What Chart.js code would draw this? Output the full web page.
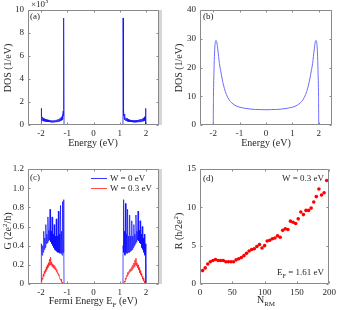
<!DOCTYPE html>
<html>
<head>
<meta charset="utf-8">
<script src="https://cdn.jsdelivr.net/npm/chart.js"></script>
<style>
  body { margin: 0; background: #fff; }
  #fig { position: relative; width: 339px; height: 310px; font-family: 'Liberation Serif', serif; color: #262626; }
  #fig canvas { position: absolute; }
  .t { position: absolute; white-space: nowrap; font-size: 10px; line-height: 10px; transform: translate(-50%, -50%); }
  .ty { transform: translate(-50%, -50%) rotate(-90deg); }
  .tag { position: absolute; font-size: 9px; line-height: 9px; white-space: nowrap; }
  .strip { position: absolute; width: 3px; background: #d6d6d6; }
  .leg { position: absolute; height: 1px; width: 16px; }
  sub, sup { font-size: 70%; line-height: 0; }
</style>
</head>
<body>
<div id="fig">
  <canvas id="ca" width="170" height="155" style="left:0;top:0"></canvas>
  <canvas id="cb" width="169" height="155" style="left:170px;top:0"></canvas>
  <canvas id="cc" width="170" height="155" style="left:0;top:155px"></canvas>
  <canvas id="cd" width="169" height="155" style="left:170px;top:155px"></canvas>

  <div class="strip" style="left:159px;top:10px;height:115px"></div>
  <div class="strip" style="left:159px;top:169px;height:115px"></div>

  <!-- axis titles -->
  <div class="t ty" style="left:8px;top:68px">DOS (1/eV)</div>
  <div class="t" style="left:93px;top:143px">Energy (eV)</div>
  <div class="t ty" style="left:179px;top:68px">DOS (1/eV)</div>
  <div class="t" style="left:266px;top:143px">Energy (eV)</div>
  <div class="t ty" style="left:8px;top:231px">G (2e<sup>2</sup>/h)</div>
  <div class="t" style="left:93px;top:301px">Fermi Energy E<sub>F</sub> (eV)</div>
  <div class="t ty" style="left:179px;top:231px">R (h/2e<sup>2</sup>)</div>
  <div class="t" style="left:266px;top:300px">N<sub>RM</sub></div>

  <!-- panel tags and notes -->
  <div class="tag" style="left:31px;top:0px">&times;10<sup>3</sup></div>
  <div class="tag" style="left:30px;top:12px">(a)</div>
  <div class="tag" style="left:203px;top:12px">(b)</div>
  <div class="tag" style="left:30px;top:173px">(c)</div>
  <div class="tag" style="left:203px;top:174px">(d)</div>
  <div class="tag" style="right:15px;top:174px">W = 0.3 eV</div>
  <div class="tag" style="right:15px;top:268px">E<sub>F</sub> = 1.61 eV</div>

  <!-- legend (c) -->
  <div class="leg" style="left:91px;top:178px;background:#3535ff"></div>
  <div class="tag" style="left:110px;top:174px">W = 0 eV</div>
  <div class="leg" style="left:91px;top:188px;background:#ff4a4a"></div>
  <div class="tag" style="left:110px;top:184px">W = 0.3 eV</div>
</div>

<script>
// (a) disordered DOS, units of 10^3 1/eV
const energyA = [
  -2.5, -2.0, -2.0, -1.995, -1.99, -1.98, -1.97, -1.96, -1.95, -1.94, -1.93, -1.92, -1.91, -1.90,
  -1.88, -1.86, -1.84, -1.82, -1.80, -1.78, -1.76, -1.74, -1.72, -1.70, -1.68, -1.66, -1.64, -1.62,
  -1.60, -1.58, -1.56, -1.54, -1.52, -1.50, -1.48, -1.46, -1.44, -1.42, -1.40, -1.38, -1.36, -1.34,
  -1.32, -1.30, -1.28, -1.26, -1.24, -1.22, -1.20,
  -1.19, -1.18, -1.17, -1.16, -1.15, -1.145, -1.14, -1.135, -1.13, -1.125,
  1.125, 1.13, 1.135, 1.14, 1.145, 1.15, 1.16, 1.17, 1.18, 1.19,
  1.20, 1.22, 1.24, 1.26, 1.28, 1.30, 1.32, 1.34, 1.36, 1.38, 1.40, 1.42, 1.44, 1.46,
  1.48, 1.50, 1.52, 1.54, 1.56, 1.58, 1.60, 1.62, 1.64, 1.66, 1.68, 1.70, 1.72, 1.74,
  1.76, 1.78, 1.80, 1.82, 1.84, 1.86, 1.88,
  1.90, 1.91, 1.92, 1.93, 1.94, 1.95, 1.96, 1.97, 1.98, 1.99, 1.995, 2.0, 2.0, 2.5
];
const dosA = [
  0, 0, 1.45, 0.5, 0.8, 0.45, 0.75, 0.4, 0.7, 0.38, 0.62, 0.36, 0.58, 0.34,
  0.55, 0.32, 0.5, 0.3, 0.48, 0.28, 0.45, 0.27, 0.44, 0.26, 0.42, 0.25, 0.4, 0.24,
  0.4, 0.24, 0.38, 0.24, 0.4, 0.25, 0.4, 0.26, 0.42, 0.27, 0.45, 0.28, 0.48, 0.3,
  0.52, 0.32, 0.58, 0.35, 0.65, 0.4, 0.75,
  0.45, 0.9, 0.55, 1.2, 0.8, 1.8, 2.2, 7.5, 9.3, 0,
  0, 9.3, 7.4, 2.2, 1.7, 0.8, 1.3, 0.55, 0.95, 0.45,
  0.7, 0.4, 0.62, 0.34, 0.56, 0.32, 0.5, 0.3, 0.46, 0.28, 0.44, 0.27, 0.42, 0.26,
  0.4, 0.25, 0.39, 0.24, 0.38, 0.24, 0.4, 0.24, 0.41, 0.25, 0.43, 0.26, 0.45, 0.27,
  0.47, 0.28, 0.5, 0.3, 0.52, 0.32, 0.56,
  0.34, 0.6, 0.36, 0.64, 0.38, 0.7, 0.4, 0.75, 0.45, 0.8, 0.5, 1.45, 0, 0
];

// (b) clean DOS
const energyB = [
  -2.5, -2.0, -1.99, -1.97, -1.95, -1.93, -1.91, -1.89, -1.87, -1.85, -1.83, -1.81, -1.78, -1.75,
  -1.72, -1.69, -1.66, -1.62, -1.58, -1.54, -1.5, -1.45, -1.4, -1.35, -1.3, -1.2, -1.1, -1.0,
  -0.9, -0.8, -0.6, -0.4, -0.2, 0,
  0.2, 0.4, 0.6, 0.8, 0.9, 1.0, 1.1, 1.2, 1.3, 1.35, 1.4, 1.45, 1.5, 1.54, 1.58, 1.62, 1.66,
  1.69, 1.72, 1.75, 1.78, 1.81, 1.83, 1.85, 1.87, 1.89, 1.91, 1.93, 1.95, 1.97, 1.99, 2.0, 2.5
];
const dosB = [
  0, 0, 10, 19, 25, 28, 29.2, 29.4, 29, 28, 26.5, 25, 22.5, 20.5,
  19, 17.5, 16, 14.3, 12.8, 11.6, 10.6, 9.6, 8.8, 8.2, 7.7, 7.0, 6.5, 6.2,
  6.0, 5.8, 5.55, 5.4, 5.35, 5.3,
  5.35, 5.4, 5.55, 5.8, 6.0, 6.2, 6.5, 7.0, 7.7, 8.2, 8.8, 9.6, 10.6, 11.6, 12.8, 14.3, 16,
  17.5, 19, 20.5, 22.5, 25, 26.5, 28, 29, 29.4, 29.2, 28, 25, 19, 10, 0, 0
];

// (c) conductance, W = 0 eV
const energyC = [
  -2.5, -2.0,
  -2.00, -1.98, -1.96, -1.94, -1.92, -1.90, -1.88, -1.86, -1.84, -1.82, -1.80, -1.78, -1.76, -1.74,
  -1.72, -1.70, -1.68, -1.66, -1.64, -1.62, -1.60, -1.58, -1.56, -1.54, -1.52, -1.50, -1.48, -1.46,
  -1.44, -1.42, -1.40, -1.38, -1.36, -1.34, -1.32, -1.30, -1.28, -1.26, -1.24, -1.22, -1.20, -1.18,
  -1.16, -1.14,
  -1.13, -1.125,
  1.125, 1.13,
  1.14, 1.16, 1.18, 1.20, 1.22, 1.24, 1.26, 1.28, 1.30, 1.32, 1.34, 1.36, 1.38, 1.40,
  1.42, 1.44, 1.46, 1.48, 1.50, 1.52, 1.54, 1.56, 1.58, 1.60, 1.62, 1.64, 1.66, 1.68,
  1.70, 1.72, 1.74, 1.76, 1.78, 1.80, 1.82, 1.84, 1.86, 1.88, 1.90, 1.92, 1.94, 1.96,
  1.98, 2.00,
  2.0, 2.5
];
const gW0 = [
  0, 0,
  0.2, 0.42, 0.3, 0.4, 0.33, 0.55, 0.36, 0.48, 0.38, 0.62, 0.42, 0.52, 0.43, 0.7,
  0.45, 0.56, 0.46, 0.78, 0.44, 0.55, 0.42, 0.7, 0.4, 0.52, 0.38, 0.62, 0.36, 0.5,
  0.35, 0.68, 0.34, 0.5, 0.33, 0.76, 0.33, 0.52, 0.32, 0.82, 0.32, 0.55, 0.3, 0.86,
  0.33, 0.88,
  0.4, 0,
  0, 0.4,
  0.88, 0.33, 0.55, 0.3, 0.84, 0.32, 0.52, 0.32, 0.78, 0.33, 0.5, 0.33, 0.72, 0.34,
  0.5, 0.35, 0.66, 0.36, 0.5, 0.38, 0.62, 0.4, 0.52, 0.42, 0.72, 0.44, 0.55, 0.46,
  0.76, 0.45, 0.56, 0.43, 0.66, 0.42, 0.52, 0.38, 0.6, 0.36, 0.48, 0.33, 0.52, 0.3,
  0.42, 0.2,
  0, 0
];

// (c) conductance, W = 0.3 eV
const energyCr = [
  -2.5,
  -2.00, -1.98, -1.96, -1.94, -1.92, -1.90, -1.88, -1.86, -1.84, -1.82, -1.80, -1.78, -1.76, -1.74,
  -1.72, -1.70, -1.68, -1.66, -1.64, -1.62, -1.60, -1.58, -1.56, -1.54, -1.52, -1.50, -1.48, -1.46,
  -1.44, -1.42, -1.40, -1.38, -1.36, -1.34, -1.32, -1.30, -1.28, -1.26, -1.24, -1.22, -1.20, -1.18,
  -1.16, -1.14,
  1.14, 1.16, 1.18, 1.20, 1.22, 1.24, 1.26, 1.28, 1.30, 1.32, 1.34, 1.36, 1.38, 1.40,
  1.42, 1.44, 1.46, 1.48, 1.50, 1.52, 1.54, 1.56, 1.58, 1.60, 1.62, 1.64, 1.66, 1.68,
  1.70, 1.72, 1.74, 1.76, 1.78, 1.80, 1.82, 1.84, 1.86, 1.88, 1.90, 1.92, 1.94, 1.96,
  1.98, 2.00,
  2.5
];
const gW03 = [
  0,
  0, 0.03, 0.06, 0.05, 0.1, 0.08, 0.13, 0.11, 0.15, 0.13, 0.18, 0.15, 0.2, 0.17,
  0.22, 0.19, 0.26, 0.2, 0.28, 0.2, 0.23, 0.18, 0.21, 0.17, 0.2, 0.16, 0.19, 0.15,
  0.17, 0.13, 0.15, 0.11, 0.12, 0.09, 0.1, 0.07, 0.07, 0.04, 0.05, 0.02, 0.02, 0,
  0, 0,
  0, 0.01, 0.03, 0.02, 0.06, 0.05, 0.09, 0.08, 0.12, 0.1, 0.13, 0.12, 0.15, 0.13,
  0.16, 0.14, 0.18, 0.15, 0.2, 0.17, 0.22, 0.18, 0.25, 0.2, 0.27, 0.19, 0.22, 0.17,
  0.2, 0.15, 0.17, 0.12, 0.14, 0.1, 0.11, 0.08, 0.08, 0.05, 0.06, 0.03, 0.03, 0.01,
  0, 0,
  0
];

// (d) resistance vs N_RM
const nRM = [
  4, 8, 12, 16, 20, 24, 28, 32, 36, 40, 44, 48, 52, 56, 60, 64, 68, 72, 76, 80,
  84, 88, 92, 96, 100, 104, 108, 112, 116, 120, 124, 128, 132, 136, 140, 144, 148, 152, 156, 160,
  164, 168, 172, 176, 180, 184, 188, 192, 196
];
const resist = [
  1.75, 2.1, 2.6, 2.9, 3.06, 3.2, 3.06, 3.06, 3.06, 2.9, 2.9, 2.9, 2.9, 3.15, 3.3, 3.45, 3.7, 4.0, 4.3, 4.5,
  4.6, 4.9, 5.15, 4.7, 5.0, 5.6, 5.7, 5.9, 6.0, 6.3, 6.1, 7.0, 7.2, 7.1, 8.2, 8.05, 7.9, 8.5, 9.4, 9.05,
  9.6, 9.6, 9.9, 10.7, 11.4, 12.4, 11.6, 11.9, 13.5
];

const energyTicks = [-2, -1, 0, 1, 2];
const ticksA = [0, 2, 4, 6, 8, 10];
const ticksB = [0, 10, 20, 30, 40];
const ticksC = [0, 0.2, 0.4, 0.6, 0.8, 1, 1.2];
const ticksDx = [0, 50, 100, 150, 200];
const ticksDy = [0, 5, 10, 15];

Chart.defaults.font.family = "'Liberation Serif', serif";
Chart.defaults.font.size = 9;
Chart.defaults.color = '#262626';

const zip = (xs, ys) => xs.map((x, i) => ({ x: x, y: ys[i] }));

// MATLAB style box with inward ticks on all four sides
const boxPlugin = {
  id: 'box',
  afterDatasetsDraw(chart) {
    const { ctx, chartArea: a, scales } = chart;
    const L = Math.round(a.left) + 0.5, R = Math.round(a.right) - 0.5;
    const T = Math.round(a.top) + 0.5, B = Math.round(a.bottom) - 0.5;
    ctx.save();
    ctx.strokeStyle = '#8a8a8a';
    ctx.lineWidth = 1;
    ctx.beginPath();
    ctx.rect(L, T, R - L, B - T);
    scales.x.ticks.forEach(t => {
      const px = Math.round(scales.x.getPixelForValue(t.value)) + 0.5;
      ctx.moveTo(px, B); ctx.lineTo(px, B - 2);
      ctx.moveTo(px, T); ctx.lineTo(px, T + 2);
    });
    scales.y.ticks.forEach(t => {
      const py = Math.round(scales.y.getPixelForValue(t.value)) + 0.5;
      ctx.moveTo(L, py); ctx.lineTo(L + 2, py);
      ctx.moveTo(R, py); ctx.lineTo(R - 2, py);
    });
    ctx.stroke();
    ctx.restore();
  }
};

function axis(min, max, ticks, size, isX) {
  return {
    type: 'linear', min: min, max: max,
    grid: { display: false, drawTicks: false },
    border: { display: false },
    ticks: { padding: isX ? 3 : 4 },
    afterBuildTicks: s => { s.ticks = ticks.map(v => ({ value: v })); },
    afterFit: s => { if (isX) s.height = size; else s.width = size; }
  };
}

function makeChart(id, datasets, x, y, pad) {
  return new Chart(document.getElementById(id), {
    type: 'line',
    data: { datasets: datasets },
    options: {
      responsive: false,
      animation: false,
      events: [],
      layout: { padding: pad },
      elements: { point: { radius: 0 }, line: { tension: 0 } },
      plugins: { legend: { display: false }, tooltip: { enabled: false } },
      scales: { x: x, y: y }
    },
    plugins: [boxPlugin]
  });
}

makeChart('ca', [{
  data: zip(energyA, dosA), borderColor: 'rgba(20,20,255,0.8)', borderWidth: 1
}], axis(-2.5, 2.5, energyTicks, 30, true), axis(0, 10, ticksA, 28, false),
  { top: 10, right: 11, left: 0, bottom: 0 });

makeChart('cb', [{
  data: zip(energyB, dosB), borderColor: '#6b6bff', borderWidth: 1, cubicInterpolationMode: 'monotone'
}], axis(-2.5, 2.5, energyTicks, 30, true), axis(0, 40, ticksB, 30, false),
  { top: 10, right: 7, left: 0, bottom: 0 });

makeChart('cc', [{
  data: zip(energyC, gW0), borderColor: 'rgba(10,10,255,0.7)', borderWidth: 1
}, {
  data: zip(energyCr, gW03), borderColor: 'rgba(255,30,30,0.75)', borderWidth: 1
}], axis(-2.5, 2.5, energyTicks, 26, true), axis(0, 1.2, ticksC, 28, false),
  { top: 14, right: 11, left: 0, bottom: 0 });

makeChart('cd', [{
  data: zip(nRM, resist), showLine: false, pointRadius: 1.8,
  pointBackgroundColor: '#ff0000', pointBorderWidth: 0
}], axis(0, 200, ticksDx, 26, true), axis(0, 15, ticksDy, 30, false),
  { top: 14, right: 7, left: 0, bottom: 0 });
</script>
</body>
</html>
